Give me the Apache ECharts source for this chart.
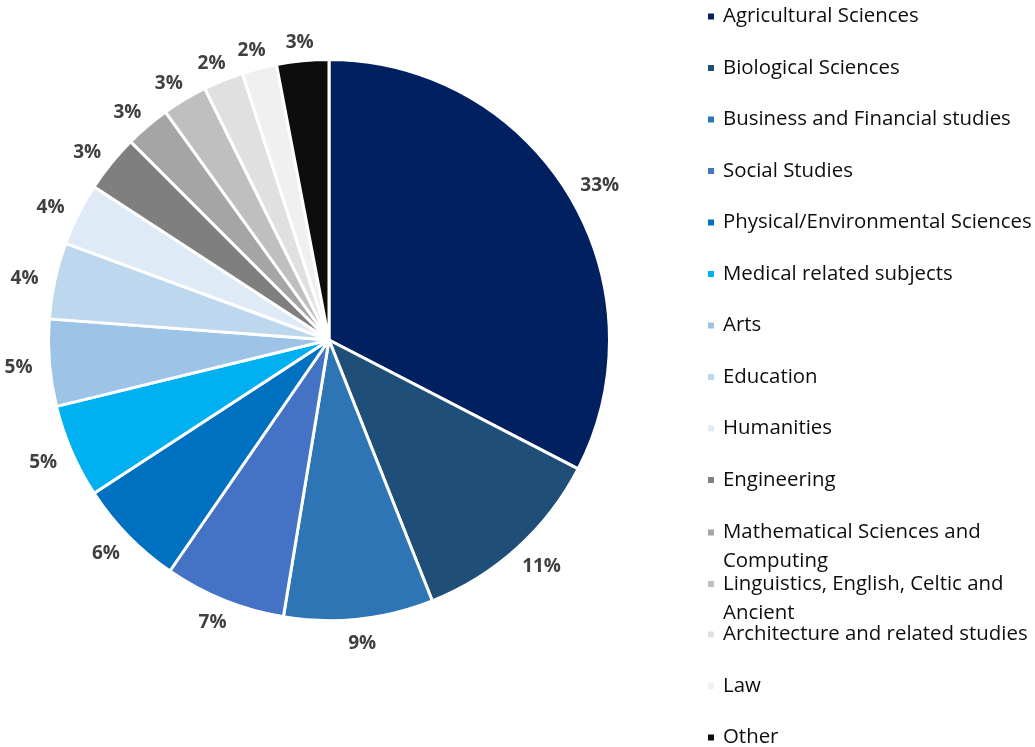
<!DOCTYPE html>
<html>
<head>
<meta charset="utf-8">
<script src="https://cdn.jsdelivr.net/npm/echarts@6/dist/echarts.min.js"></script>
<style>
html, body { margin: 0; padding: 0; background: #fff; }
#chart { width: 1035px; height: 747px; }
</style>
</head>
<body>
<div id="chart"></div>
<script>
const categories = [
  'Agricultural Sciences',
  'Biological Sciences',
  'Business and Financial studies',
  'Social Studies',
  'Physical/Environmental Sciences',
  'Medical related subjects',
  'Arts',
  'Education',
  'Humanities',
  'Engineering',
  'Mathematical Sciences and Computing',
  'Linguistics, English, Celtic and Ancient',
  'Architecture and related studies',
  'Law',
  'Other'
];
const legendLabels = [
  'Agricultural Sciences',
  'Biological Sciences',
  'Business and Financial studies',
  'Social Studies',
  'Physical/Environmental Sciences',
  'Medical related subjects',
  'Arts',
  'Education',
  'Humanities',
  'Engineering',
  'Mathematical Sciences and\nComputing',
  'Linguistics, English, Celtic and\nAncient',
  'Architecture and related studies',
  'Law',
  'Other'
];
const shares = [32.6, 11.4, 8.6, 7.0, 6.2, 5.4, 5.0, 4.4, 3.6, 3.3, 2.6, 2.6, 2.3, 2.0, 3.0];
const colors = [
  '#002060', '#1F4E79', '#2E75B6', '#4472C4', '#0070C0',
  '#00B0F0', '#9DC3E6', '#BDD7EE', '#DEEBF7', '#7F7F7F',
  '#A5A5A5', '#BFBFBF', '#E0E0E0', '#F0F0F0', '#0D0D0D'
];

const pieData = categories.map((name, i) => ({
  name: name,
  value: shares[i],
  itemStyle: { color: colors[i] }
}));

const FONT = '"Open Sans", "Noto Sans", sans-serif';
const CX = 329, CY = 340, R = 280.5;
const LABEL_GAP_X = 8, LABEL_PAD_X = 9, LABEL_GAP_Y = 12, LABEL_SHIFT_Y = 3;

// For two-line legend entries the square marker sits beside the first line:
// the icon path keeps an 8x8 square at the top of a taller (8x37) icon box.
const TALL_ICON = 'path://M0,0L8,0L8,8L0,8Z M0,37';

const legends = categories.map((name, i) => {
  const twoLines = legendLabels[i].indexOf('\n') >= 0;
  return {
    data: [name],
    orient: 'vertical',
    left: 706,
    top: 15 + i * 51.5 - (twoLines ? 12 : 13),
    padding: 0,
    icon: twoLines ? TALL_ICON : 'rect',
    itemWidth: 8,
    itemHeight: twoLines ? 37 : 8,
    selectedMode: false,
    formatter: () => legendLabels[i],
    textStyle: {
      fontFamily: FONT,
      fontSize: 20.4,
      color: '#0D0D0D',
      lineHeight: 29,
      padding: [0, 0, 0, 3]
    }
  };
});

// "Outside end" labels: move each label out along its slice's mid-angle
// direction so its box (plus a small margin) clears the pie edge.
function outsideEnd(params) {
  const r = params.labelRect;
  const mx = r.x + r.width / 2, my = r.y + r.height / 2;
  const dx = mx - CX, dy = my - CY;
  const d = Math.sqrt(dx * dx + dy * dy) || 1;
  const ux = dx / d, uy = dy / d;
  return {
    x: CX + ux * (R + LABEL_GAP_X + r.width / 2 + LABEL_PAD_X),
    y: CY + uy * (R + LABEL_GAP_Y + r.height / 2) + LABEL_SHIFT_Y
  };
}

const chart = echarts.init(document.getElementById('chart'), null, { renderer: 'canvas' });
chart.setOption({
  backgroundColor: '#ffffff',
  animation: false,
  legend: legends,
  series: [
    {
      type: 'pie',
      center: [CX, CY],
      radius: [0, R],
      startAngle: 90,
      clockwise: true,
      data: pieData,
      itemStyle: { borderColor: '#ffffff', borderWidth: 3 },
      label: {
        show: true,
        position: 'inside',
        formatter: (p) => Math.round(p.percent) + '%',
        fontFamily: FONT,
        fontWeight: 'bold',
        fontSize: 19,
        color: '#404040'
      },
      labelLayout: outsideEnd,
      labelLine: { show: false },
      emphasis: { disabled: true }
    }
  ]
});
</script>
</body>
</html>
